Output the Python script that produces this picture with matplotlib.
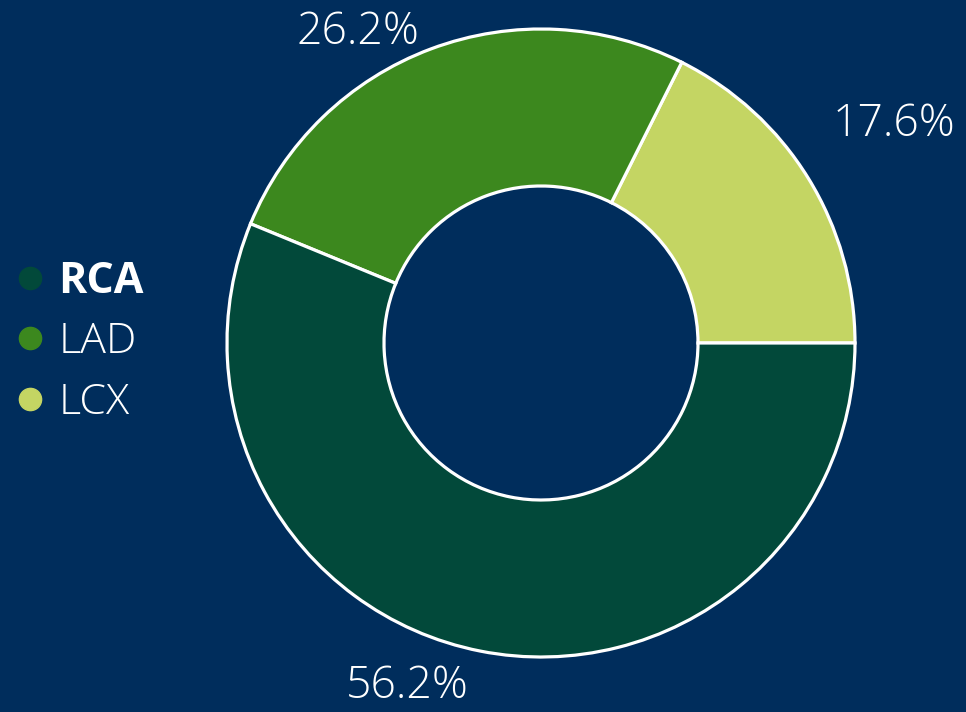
import numpy as np
import matplotlib.pyplot as plt
from matplotlib.lines import Line2D

plt.rcParams['font.family'] = ['Open Sans', 'DejaVu Sans']

# data
categories = ['LCX', 'LAD', 'RCA']
shares = [17.6, 26.2, 56.2]
colors = ['#C4D563', '#3C881E', '#02493A']
legend_order = ['RCA', 'LAD', 'LCX']

bg = '#002D5C'

fig = plt.figure(figsize=(9.66, 7.12), dpi=100, facecolor=bg)
ax = fig.add_axes([0, 0, 1, 1])
ax.set_facecolor(bg)

cx, cy, r = 541, 369, 314
wedges, _ = ax.pie(shares, colors=colors, startangle=0, counterclock=True,
                   center=(cx, cy), radius=r, frame=True,
                   wedgeprops=dict(width=157, edgecolor='white', linewidth=2.3))
ax.set_xlim(0, 966)
ax.set_ylim(0, 712)
ax.set_aspect('equal')
ax.axis('off')

# label placement (angle offset in degrees, distance from centre)
label_tweak = {'LCX': (0, 415), 'LAD': (10, 360), 'RCA': (-10, 369)}
for w, cat, s in zip(wedges, categories, shares):
    mid = (w.theta1 + w.theta2) / 2
    da, dist = label_tweak[cat]
    a = np.deg2rad(mid + da)
    ax.text(cx + dist * np.cos(a), cy + dist * np.sin(a), f'{s}%',
            ha='center', va='center', color='white', fontsize=32,
            fontweight='light')

handles = [Line2D([], [], marker='o', linestyle='', markersize=16,
                  color=colors[categories.index(c)]) for c in legend_order]
leg = ax.legend(handles, legend_order, loc='center left',
                bbox_to_anchor=(-0.031, 0.52), frameon=False, fontsize=31,
                labelcolor='white', handletextpad=0.15, labelspacing=0.42,
                handlelength=1.0)
leg.get_texts()[0].set_fontweight('bold')
for t in leg.get_texts()[1:]:
    t.set_fontweight('light')

fig.savefig('out.png', dpi=100, facecolor=bg)
